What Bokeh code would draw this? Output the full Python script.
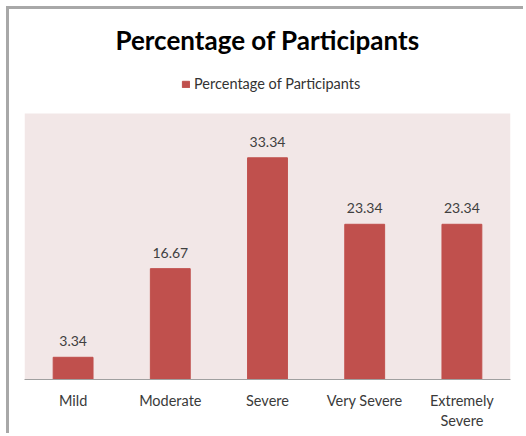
from bokeh.plotting import figure
from bokeh.models import ColumnDataSource, LabelSet, Legend, LegendItem, BoxAnnotation
from bokeh.core.properties import value
from bokeh.embed import file_html
from bokeh.resources import INLINE

# Severity categories and the share of participants in each
categories = ["Mild", "Moderate", "Severe", "Very Severe", "Extremely\nSevere"]
percentages = [3.34, 16.67, 33.34, 23.34, 23.34]
series_name = "Percentage of Participants"

src = ColumnDataSource(dict(
    cat=categories,
    val=percentages,
    label=[f"{v:.2f}" for v in percentages],
))

BAR_RED = "#c0504d"
FONT = "Lato"

# The shaded plot area covers 0..40; the frame extends above it so the
# legend can sit on white space under the title.
AREA_TOP = 40
FRAME_PX, AREA_PX = 319, 266
y_end = AREA_TOP * FRAME_PX / AREA_PX

p = figure(
    x_range=categories, y_range=(0, y_end),
    width=517, height=427,
    output_backend="svg", toolbar_location=None,
    min_border_left=15, min_border_right=16,
    min_border_top=51, min_border_bottom=57,
)
p.styles = {
    "margin-left": "6px", "margin-top": "6px",
    "border-left": "3px solid #a8a8a8", "border-top": "3px solid #a8a8a8",
}

p.add_layout(BoxAnnotation(bottom=0, top=AREA_TOP, fill_color="#f2e7e7",
                           fill_alpha=1, line_color=None, level="underlay"))

r = p.vbar(x="cat", top="val", width=0.41, source=src,
           fill_color=BAR_RED, line_color=BAR_RED)

p.add_layout(LabelSet(
    x="cat", y="val", text="label", source=src,
    text_align="center", text_baseline="alphabetic", y_offset=11,
    text_font=value(FONT), text_font_size=value("14px"), text_color="#404040",
))

# Chart title
p.title.text = series_name
p.title.align = "center"
p.title.text_font = FONT
p.title.text_font_size = "26px"
p.title.text_font_style = "bold"
p.title.text_color = "#000000"
p.title.standoff = 10

# Legend sits above the shaded area; location is its bottom-left in frame pixels
legend = Legend(
    items=[LegendItem(label=series_name, renderers=[r])],
    location=(157, 287), orientation="horizontal",
    border_line_color=None, background_fill_alpha=0,
    label_text_font=FONT, label_text_font_size="14.5px", label_text_color="#333333",
    glyph_width=9, glyph_height=8, label_standoff=4,
    padding=0, margin=0, spacing=0,
)
p.add_layout(legend, "center")

p.background_fill_color = "white"
p.border_fill_color = "white"
p.outline_line_color = None
p.xgrid.grid_line_color = None
p.ygrid.grid_line_color = None
p.yaxis.visible = False

ax = p.xaxis[0]
ax.axis_line_color = "#a0a0a0"
ax.major_tick_line_color = None
ax.minor_tick_line_color = None
ax.major_tick_out = 0
ax.major_tick_in = 0
ax.major_label_standoff = 12
ax.major_label_text_font = FONT
ax.major_label_text_font_size = "14.5px"
ax.major_label_text_color = "#3a3a3a"
ax.major_label_text_line_height = 1.2

open("out.html", "w").write(file_html(p, INLINE))
